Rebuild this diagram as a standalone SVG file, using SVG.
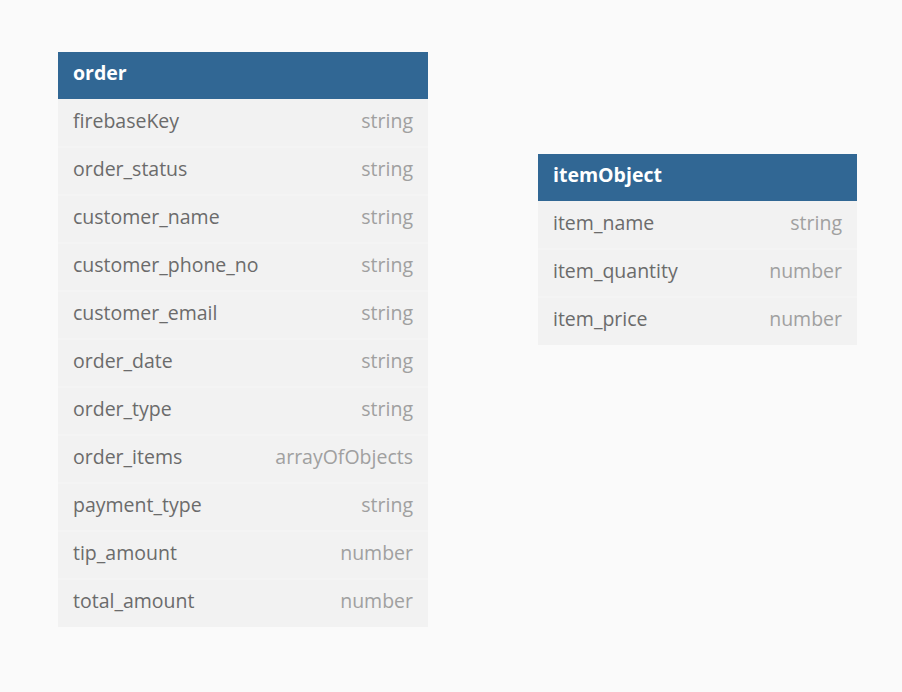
<svg xmlns="http://www.w3.org/2000/svg" width="902" height="692" viewBox="0 0 902 692">
<style>
.hdr{fill:#316794}
.body{fill:#f2f2f2}
.sep{stroke:#f6f6f6;stroke-width:1}
.ttl{font-family:"Open Sans",sans-serif;font-size:19.5px;font-weight:bold;fill:#ffffff}
.nm{font-family:"Open Sans",sans-serif;font-size:19.5px;fill:#6b6b6b}
.ty{font-family:"Open Sans",sans-serif;font-size:19.5px;fill:#a0a0a0;text-anchor:end}
</style>
<rect width="902" height="692" fill="#fafafa"/>
<g id="connectors"></g>
<g id="order">
<rect class="body" x="58" y="99" width="370" height="528"/>
<rect class="hdr" x="58" y="52" width="370" height="47"/>
<text class="ttl" x="73" y="80">order</text>
<line class="sep" x1="58" y1="147" x2="428" y2="147"/>
<line class="sep" x1="58" y1="195" x2="428" y2="195"/>
<line class="sep" x1="58" y1="243" x2="428" y2="243"/>
<line class="sep" x1="58" y1="291" x2="428" y2="291"/>
<line class="sep" x1="58" y1="339" x2="428" y2="339"/>
<line class="sep" x1="58" y1="387" x2="428" y2="387"/>
<line class="sep" x1="58" y1="435" x2="428" y2="435"/>
<line class="sep" x1="58" y1="483" x2="428" y2="483"/>
<line class="sep" x1="58" y1="531" x2="428" y2="531"/>
<line class="sep" x1="58" y1="579" x2="428" y2="579"/>
<text class="nm" x="73" y="128">firebaseKey</text><text class="ty" x="413" y="128">string</text>
<text class="nm" x="73" y="176">order_status</text><text class="ty" x="413" y="176">string</text>
<text class="nm" x="73" y="224">customer_name</text><text class="ty" x="413" y="224">string</text>
<text class="nm" x="73" y="272">customer_phone_no</text><text class="ty" x="413" y="272">string</text>
<text class="nm" x="73" y="320">customer_email</text><text class="ty" x="413" y="320">string</text>
<text class="nm" x="73" y="368">order_date</text><text class="ty" x="413" y="368">string</text>
<text class="nm" x="73" y="416">order_type</text><text class="ty" x="413" y="416">string</text>
<text class="nm" x="73" y="464">order_items</text><text class="ty" x="413" y="464">arrayOfObjects</text>
<text class="nm" x="73" y="512">payment_type</text><text class="ty" x="413" y="512">string</text>
<text class="nm" x="73" y="560">tip_amount</text><text class="ty" x="413" y="560">number</text>
<text class="nm" x="73" y="608">total_amount</text><text class="ty" x="413" y="608">number</text>
</g>
<g id="itemObject">
<rect class="body" x="538" y="201" width="319" height="144"/>
<rect class="hdr" x="538" y="154" width="319" height="47"/>
<text class="ttl" x="553" y="182">itemObject</text>
<line class="sep" x1="538" y1="249" x2="857" y2="249"/>
<line class="sep" x1="538" y1="297" x2="857" y2="297"/>
<text class="nm" x="553" y="230">item_name</text><text class="ty" x="842" y="230">string</text>
<text class="nm" x="553" y="278">item_quantity</text><text class="ty" x="842" y="278">number</text>
<text class="nm" x="553" y="326">item_price</text><text class="ty" x="842" y="326">number</text>
</g>
</svg>
